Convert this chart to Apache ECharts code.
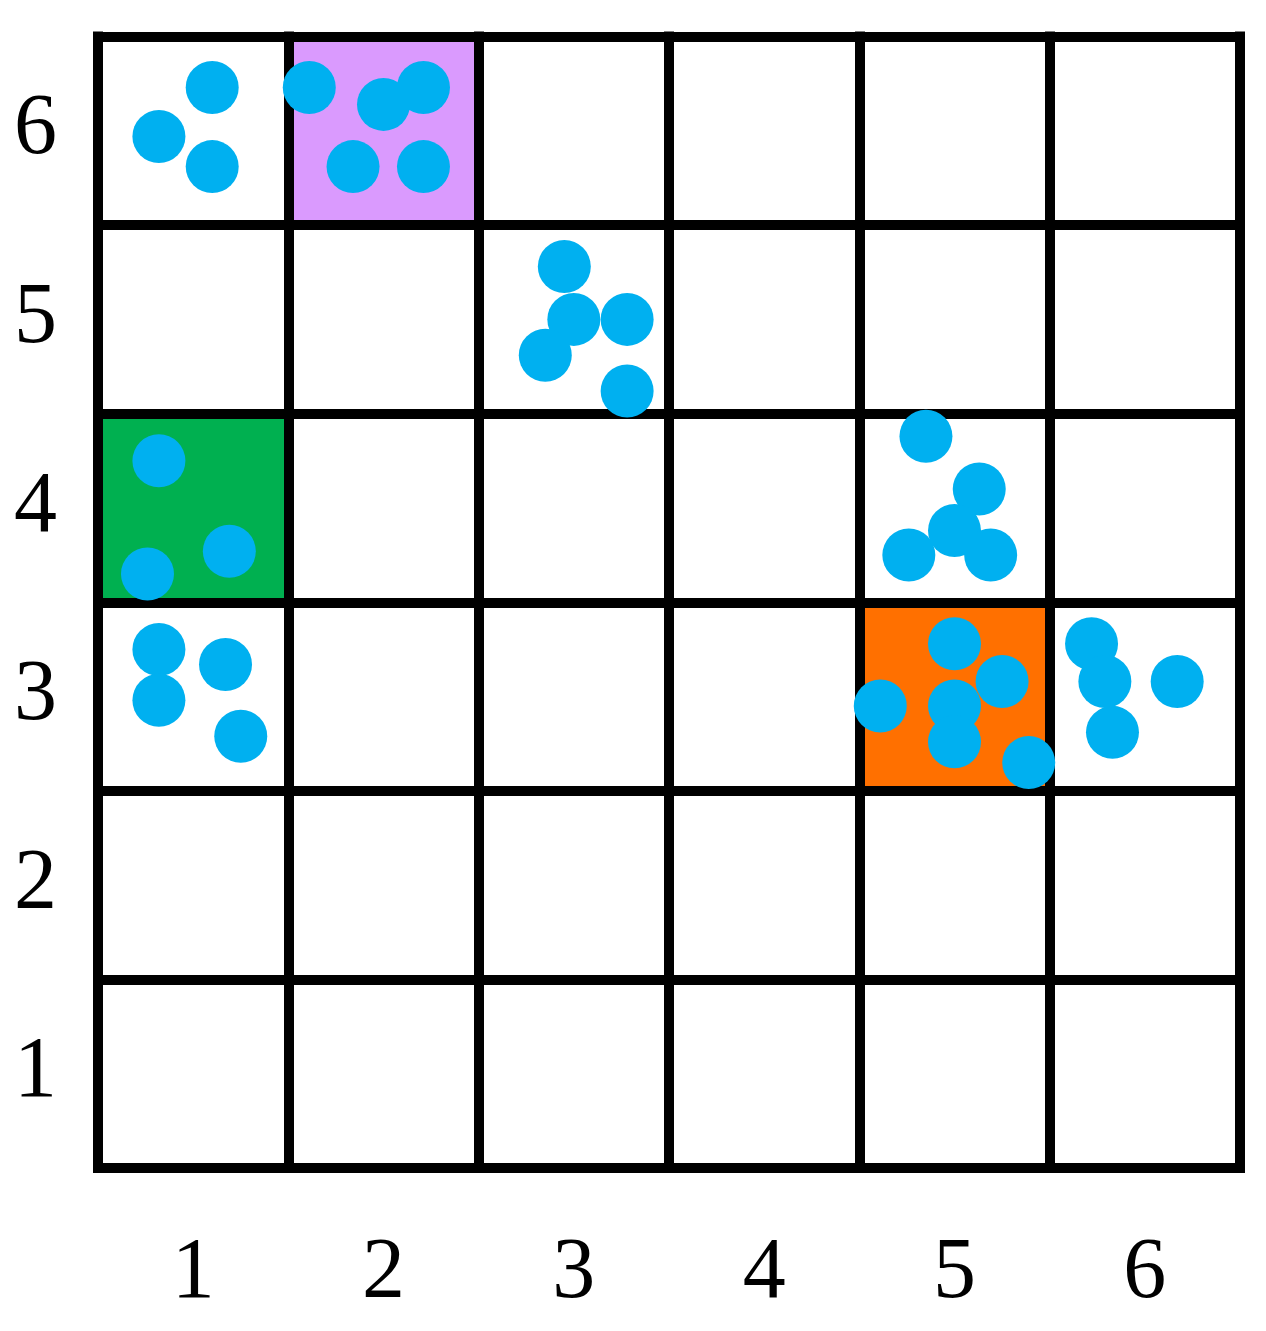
<!DOCTYPE html>
<html>
<head>
<meta charset="utf-8">
<script src="https://cdn.jsdelivr.net/npm/echarts@6/dist/echarts.min.js"></script>
<style>
html,body{margin:0;padding:0;background:#fff;}
#main{width:1266px;height:1331px;}
</style>
</head>
<body>
<div id="main"></div>
<script>
// Tick labels (columns and rows)
var colLabels = ['1', '2', '3', '4', '5', '6'];
var rowLabels = ['1', '2', '3', '4', '5', '6'];

// Highlighted cells: [column, row] (1-based)
var highlightCells = [[2, 6], [1, 4], [5, 3]];
var highlightColors = ['#DA9AFE', '#00B050', '#FF7000'];

// Points (x, y) in grid units (cell i spans i-1..i)
var pointsX = [0.60, 0.32, 0.60,
  1.11, 1.50, 1.71, 1.34, 1.71,
  2.45, 2.50, 2.78, 2.35, 2.78,
  0.32, 0.69, 0.26,
  0.32, 0.67, 0.32, 0.75,
  4.35, 4.63, 4.50, 4.26, 4.69,
  4.50, 4.75, 4.11, 4.50, 4.50, 4.89,
  5.22, 5.29, 5.67, 5.33];
var pointsY = [5.73, 5.47, 5.31,
  5.73, 5.64, 5.73, 5.31, 5.31,
  4.78, 4.50, 4.50, 4.31, 4.12,
  3.75, 3.27, 3.15,
  2.75, 2.67, 2.48, 2.29,
  3.88, 3.60, 3.38, 3.25, 3.25,
  2.78, 2.58, 2.45, 2.45, 2.26, 2.15,
  2.78, 2.58, 2.58, 2.31];

var points = pointsX.map(function (x, i) { return [x, pointsY[i]]; });
var cellData = highlightCells.map(function (c, i) {
  return { value: c, itemStyle: { color: highlightColors[i] } };
});

var font = 'Times New Roman';
var chart = echarts.init(document.getElementById('main'));
chart.setOption({
  animation: false,
  backgroundColor: '#ffffff',
  grid: { left: 98, right: 26, top: 36.5, bottom: 163, containLabel: false },
  xAxis: [{
    type: 'value', min: 0, max: 6, interval: 1, z: 3,
    axisLine: { show: false }, axisTick: { show: false }, axisLabel: { show: false },
    splitLine: { show: true, lineStyle: { color: '#000', width: 10, cap: 'square' } }
  }, {
    type: 'category', data: colLabels, boundaryGap: true, position: 'bottom',
    axisLine: { show: false }, axisTick: { show: false }, splitLine: { show: false },
    axisLabel: { show: true, margin: 63, color: '#000', fontFamily: font, fontSize: 86 }
  }],
  yAxis: [{
    type: 'value', min: 0, max: 6, interval: 1, z: 3,
    axisLine: { show: false }, axisTick: { show: false }, axisLabel: { show: false },
    splitLine: { show: true, lineStyle: { color: '#000', width: 10, cap: 'square' } }
  }, {
    type: 'category', data: rowLabels, boundaryGap: true, position: 'left',
    axisLine: { show: false }, axisTick: { show: false }, splitLine: { show: false },
    axisLabel: { show: true, margin: 41, color: '#000', fontFamily: font, fontSize: 86 }
  }],
  series: [{
    type: 'custom',
    xAxisIndex: 0, yAxisIndex: 0,
    z: 1,
    data: cellData,
    renderItem: function (params, api) {
      var c = api.value(0), r = api.value(1);
      var p1 = api.coord([c - 1, r]);
      var p2 = api.coord([c, r - 1]);
      return {
        type: 'rect',
        shape: { x: p1[0], y: p1[1], width: p2[0] - p1[0], height: p2[1] - p1[1] },
        style: { fill: api.visual('color') }
      };
    }
  }, {
    type: 'scatter',
    xAxisIndex: 0, yAxisIndex: 0,
    z: 5,
    symbol: 'circle',
    symbolSize: 53,
    itemStyle: { color: '#00B0F0', opacity: 1 },
    data: points
  }]
});
</script>
</body>
</html>
